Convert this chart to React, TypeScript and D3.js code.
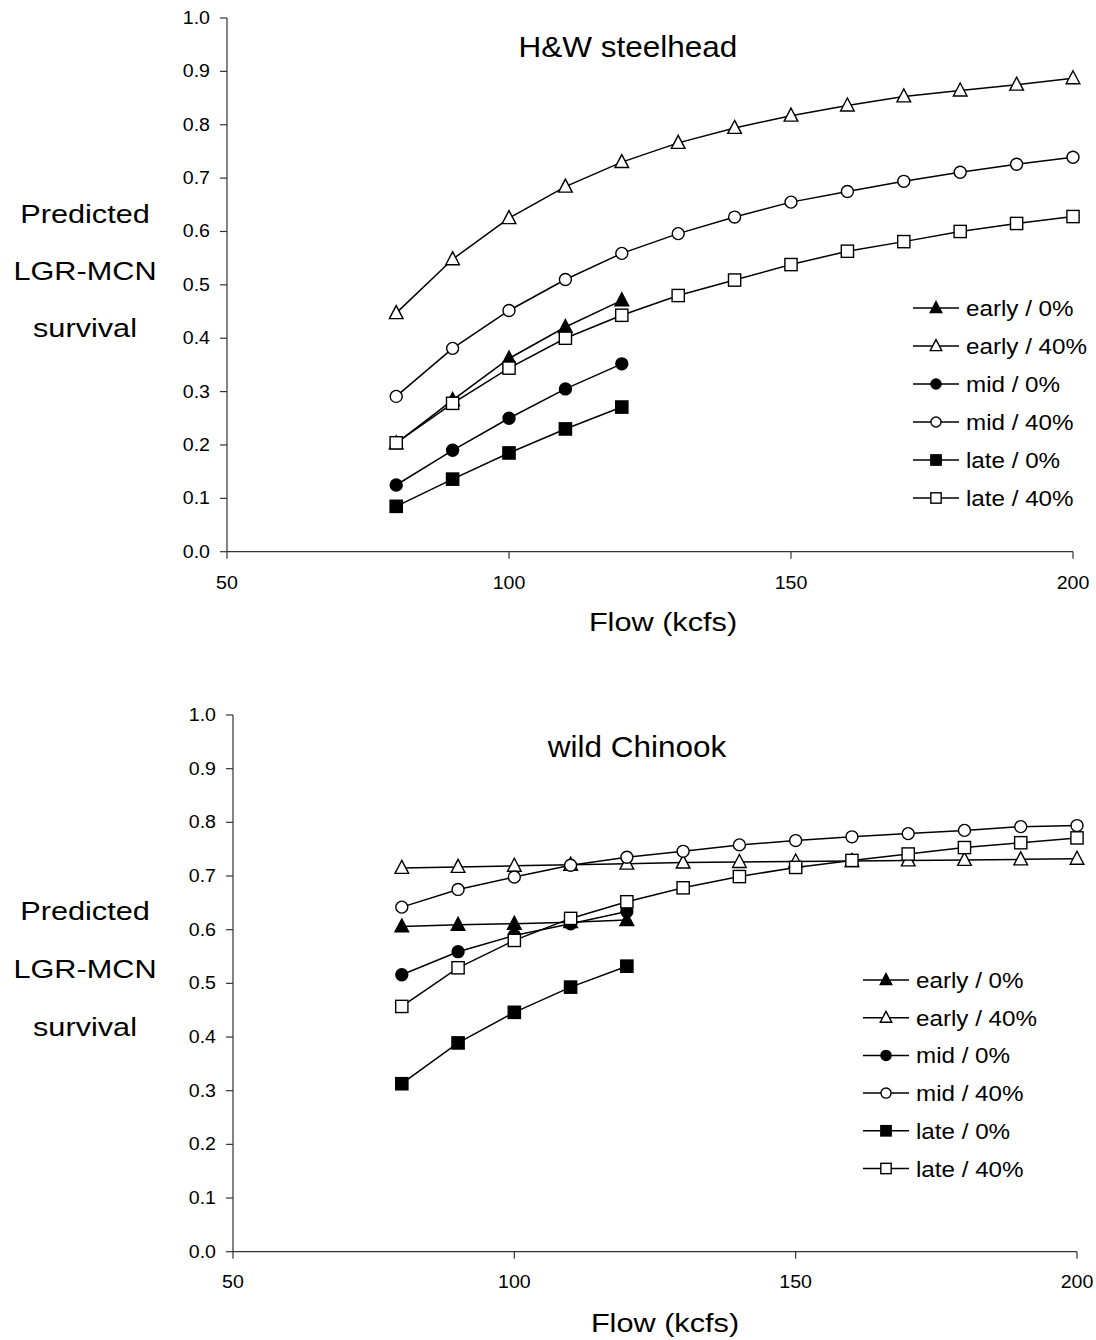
import React from "react";
import * as d3 from "d3";

const flows = [80, 90, 100, 110, 120, 130, 140, 150, 160, 170, 180, 190, 200];
const xTicks = [50, 100, 150, 200];
const yTicks = [0, 0.1, 0.2, 0.3, 0.4, 0.5, 0.6, 0.7, 0.8, 0.9, 1.0];
const seriesNames = ["early / 0%", "early / 40%", "mid / 0%", "mid / 40%", "late / 0%", "late / 40%"];
const seriesShapes = ["triangle", "triangle", "circle", "circle", "square", "square"];
const seriesFilled = [true, false, true, false, true, false];

// H&W steelhead
const steelEarly0 = [0.203, 0.284, 0.362, 0.421, 0.471];
const steelEarly40 = [0.447, 0.548, 0.625, 0.684, 0.73, 0.766, 0.794, 0.817, 0.836, 0.853, 0.864, 0.875, 0.887];
const steelMid0 = [0.125, 0.19, 0.25, 0.305, 0.352];
const steelMid40 = [0.291, 0.381, 0.452, 0.51, 0.559, 0.596, 0.627, 0.655, 0.675, 0.694, 0.711, 0.726, 0.739];
const steelLate0 = [0.085, 0.136, 0.185, 0.23, 0.271];
const steelLate40 = [0.204, 0.278, 0.344, 0.4, 0.443, 0.48, 0.509, 0.538, 0.563, 0.581, 0.6, 0.615, 0.628];

// wild Chinook
const chinEarly0 = [0.606, 0.609, 0.611, 0.614, 0.618];
const chinEarly40 = [0.715, 0.717, 0.719, 0.721, 0.723, 0.725, 0.726, 0.727, 0.728, 0.729, 0.73, 0.731, 0.732];
const chinMid0 = [0.516, 0.559, 0.589, 0.611, 0.634];
const chinMid40 = [0.642, 0.675, 0.698, 0.72, 0.735, 0.746, 0.758, 0.766, 0.773, 0.779, 0.785, 0.792, 0.794];
const chinLate0 = [0.313, 0.389, 0.446, 0.493, 0.532];
const chinLate40 = [0.457, 0.529, 0.58, 0.621, 0.652, 0.678, 0.699, 0.716, 0.729, 0.741, 0.753, 0.762, 0.771];

const FONT = "'Liberation Sans', Arial, Helvetica, sans-serif";

function Marker({ shape, filled, x, y, s }: { shape: string; filled: boolean; x: number; y: number; s: number }) {
  const fill = filled ? "#000" : "#fff";
  const common = { fill, stroke: "#000", strokeWidth: 1.4 };
  if (shape === "circle") return <circle cx={x} cy={y} r={s * 0.46} {...common} />;
  if (shape === "square")
    return <rect x={x - s * 0.47} y={y - s * 0.47} width={s * 0.94} height={s * 0.94} {...common} />;
  const h = s;
  const w = s * 1.05;
  const p = `M${x},${y - h * 0.58}L${x + w / 2},${y + h * 0.42}L${x - w / 2},${y + h * 0.42}Z`;
  return <path d={p} {...common} />;
}

type PanelProps = {
  title: string;
  titleX: number;
  titleY: number;
  x0: number;
  x1: number;
  yTop: number;
  yBot: number;
  data: number[][];
  labelX: number;
  labelYs: number[];
  yTickRight: number;
  xLabelY: number;
  flowY: number;
  flowX: number;
  legX: number;
  legY0: number;
  legStep: number;
};

function Panel(p: PanelProps) {
  const x = d3.scaleLinear().domain([50, 200]).range([p.x0, p.x1]);
  const y = d3.scaleLinear().domain([0, 1]).range([p.yBot, p.yTop]);
  const line = d3
    .line<[number, number]>()
    .x((d) => x(d[0]))
    .y((d) => y(d[1]));
  const axisColor = "#333";
  return (
    <g>
      {/* axes */}
      <line x1={p.x0} x2={p.x0} y1={p.yTop} y2={p.yBot} stroke={axisColor} strokeWidth={1.2} />
      <line x1={p.x0} x2={p.x1} y1={p.yBot} y2={p.yBot} stroke={axisColor} strokeWidth={1.2} />
      {yTicks.map((t) => (
        <g key={"y" + t}>
          <line x1={p.x0 - 7} x2={p.x0} y1={y(t)} y2={y(t)} stroke={axisColor} strokeWidth={1.2} />
          <text
            transform={`translate(${p.yTickRight},${y(t) + 6}) scale(1.12,1)`}
            textAnchor="end"
            fontSize={17.5}
            fontFamily={FONT}
            fill="#000"
          >
            {t.toFixed(1)}
          </text>
        </g>
      ))}
      {xTicks.map((t) => (
        <g key={"x" + t}>
          <line x1={x(t)} x2={x(t)} y1={p.yBot} y2={p.yBot + 7} stroke={axisColor} strokeWidth={1.2} />
          <text
            transform={`translate(${x(t)},${p.xLabelY}) scale(1.12,1)`}
            textAnchor="middle"
            fontSize={17.5}
            fontFamily={FONT}
            fill="#000"
          >
            {t}
          </text>
        </g>
      ))}
      {/* title */}
      <text
        transform={`translate(${p.titleX},${p.titleY}) scale(1.05,1)`}
        textAnchor="middle"
        fontSize={30}
        fontFamily={FONT}
      >
        {p.title}
      </text>
      {/* y label */}
      {["Predicted", "LGR-MCN", "survival"].map((s, i) => (
        <text
          key={s}
          transform={`translate(${p.labelX},${p.labelYs[i]}) scale(1.18,1)`}
          textAnchor="middle"
          fontSize={26}
          fontFamily={FONT}
        >
          {s}
        </text>
      ))}
      {/* x label */}
      <text
        transform={`translate(${p.flowX},${p.flowY}) scale(1.18,1)`}
        textAnchor="middle"
        fontSize={26}
        fontFamily={FONT}
      >
        Flow (kcfs)
      </text>
      {/* series */}
      {p.data.map((vals, si) => {
        const pts: [number, number][] = vals.map((v, i) => [flows[i], v]);
        return (
          <g key={"s" + si}>
            <path d={line(pts) || ""} fill="none" stroke="#000" strokeWidth={1.5} />
            {pts.map((d, i) => (
              <Marker
                key={i}
                shape={seriesShapes[si]}
                filled={seriesFilled[si]}
                x={x(d[0])}
                y={y(d[1])}
                s={13}
              />
            ))}
          </g>
        );
      })}
      {/* legend */}
      {seriesNames.map((n, i) => {
        const ly = p.legY0 + i * p.legStep;
        return (
          <g key={"l" + i}>
            <line x1={p.legX} x2={p.legX + 46} y1={ly} y2={ly} stroke="#000" strokeWidth={1.5} />
            <Marker shape={seriesShapes[i]} filled={seriesFilled[i]} x={p.legX + 23} y={ly} s={11} />
            <text
              transform={`translate(${p.legX + 53},${ly + 8}) scale(1.1,1)`}
              fontSize={22}
              fontFamily={FONT}
            >
              {n}
            </text>
          </g>
        );
      })}
    </g>
  );
}

export default function App() {
  return (
    <svg
      width={1096}
      height={1340}
      style={{ position: "absolute", left: 0, top: 0, background: "#fff" }}
    >
      <rect x={0} y={0} width={1096} height={1340} fill="#fff" />
      <Panel
        title="H&W steelhead"
        titleX={628}
        titleY={57}
        x0={227}
        x1={1073}
        yTop={18}
        yBot={551.7}
        data={[steelEarly0, steelEarly40, steelMid0, steelMid40, steelLate0, steelLate40]}
        labelX={85}
        labelYs={[223, 280, 337]}
        yTickRight={210}
        xLabelY={589}
        flowX={663}
        flowY={631}
        legX={913}
        legY0={308}
        legStep={38}
      />
      <Panel
        title="wild Chinook"
        titleX={637}
        titleY={757}
        x0={233}
        x1={1077}
        yTop={715}
        yBot={1251.7}
        data={[chinEarly0, chinEarly40, chinMid0, chinMid40, chinLate0, chinLate40]}
        labelX={85}
        labelYs={[920, 978, 1036]}
        yTickRight={216}
        xLabelY={1288}
        flowX={665}
        flowY={1332}
        legX={863}
        legY0={980}
        legStep={37.7}
      />
    </svg>
  );
}
